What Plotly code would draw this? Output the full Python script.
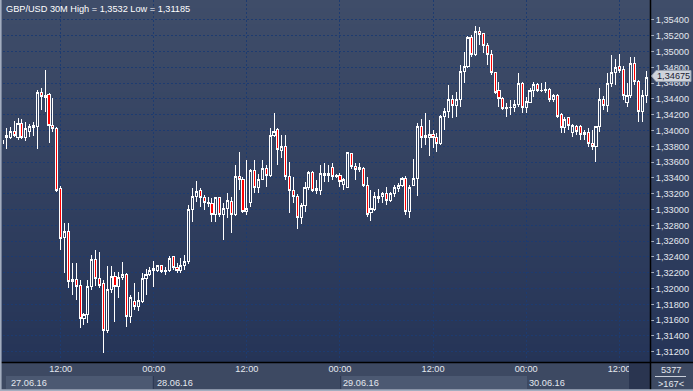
import pandas as pd
import plotly.graph_objects as go

# ---------------- data ----------------
times = pd.date_range("2016-06-27 04:30", periods=167, freq="30min")

open_ = [1.33842,1.33906,1.33918,1.33994,1.33918,1.34083,1.33906,1.33982,1.34033,1.34045,
         1.34488,1.34424,1.34462,1.34070,1.34020,1.33260,1.32640,1.32716,1.32083,1.32108,
         1.32032,1.31614,1.31665,1.32019,1.32373,1.32121,1.32057,1.31462,1.31981,1.32158,
         1.32019,1.32145,1.32183,1.31639,1.31841,1.31766,1.31829,1.32121,1.32171,1.32222,
         1.32234,1.32285,1.32209,1.32234,1.32399,1.32260,1.32222,1.32285,1.32336,1.32994,
         1.33159,1.33235,1.33146,1.33083,1.33070,1.32931,1.33146,1.32931,1.33007,1.33096,
         1.32931,1.33412,1.33386,1.32981,1.33083,1.33500,1.33273,1.33386,1.33525,1.33437,
         1.33931,1.34007,1.33741,1.33792,1.33412,1.33247,1.33159,1.32905,1.33045,1.33285,
         1.33475,1.33235,1.33247,1.33437,1.33437,1.33538,1.33412,1.33437,1.33323,1.33285,
         1.33703,1.33551,1.33538,1.33525,1.33310,1.32956,1.32994,1.33134,1.33171,1.33209,
         1.33108,1.33197,1.33260,1.33298,1.33399,1.32969,1.33310,1.33399,1.34045,1.33918,
         1.33918,1.33944,1.33906,1.33842,1.34172,1.34235,1.34399,1.34323,1.34399,1.34742,
         1.34805,1.35184,1.34969,1.35248,1.35223,1.35083,1.34957,1.34729,1.34513,1.34412,
         1.34273,1.34286,1.34298,1.34336,1.34602,1.34298,1.34361,1.34513,1.34589,1.34501,
         1.34513,1.34526,1.34387,1.34450,1.34209,1.34033,1.34159,1.33969,1.34045,1.34045,
         1.33956,1.33969,1.33842,1.33804,1.34045,1.34387,1.34311,1.34602,1.34729,1.34805,
         1.34767,1.34349,1.34450,1.34855,1.34615,1.34235,1.34450]

high = [1.33931,1.34033,1.34045,1.34121,1.34159,1.34146,1.34109,1.34083,1.34109,1.34513,
        1.34539,1.34767,1.34475,1.34412,1.34045,1.33298,1.32829,1.32829,1.32323,1.32323,
        1.32108,1.31690,1.32108,1.32424,1.32487,1.32462,1.32108,1.32285,1.32285,1.32209,
        1.32209,1.32336,1.32196,1.31918,1.32070,1.31956,1.32196,1.32247,1.32272,1.32348,
        1.32298,1.32298,1.32272,1.32412,1.32412,1.32323,1.32386,1.32424,1.33058,1.33273,
        1.33361,1.33273,1.33184,1.33159,1.33146,1.33159,1.33159,1.33083,1.33209,1.33159,
        1.33564,1.33729,1.33412,1.33627,1.33513,1.33627,1.33449,1.33627,1.33564,1.34033,
        1.34222,1.34033,1.33944,1.33944,1.33602,1.33412,1.33197,1.33083,1.33349,1.33488,
        1.33488,1.33374,1.33564,1.33589,1.33564,1.33589,1.33449,1.33462,1.33399,1.33729,
        1.33716,1.33589,1.33589,1.33538,1.33412,1.33247,1.33222,1.33260,1.33222,1.33285,
        1.33222,1.33310,1.33336,1.33412,1.33424,1.33310,1.33640,1.34096,1.34146,1.34222,
        1.34134,1.34007,1.33969,1.34197,1.34286,1.34577,1.34450,1.34488,1.34830,1.34995,
        1.35197,1.35210,1.35320,1.35311,1.35235,1.35109,1.35020,1.34742,1.34615,1.34425,
        1.34349,1.34387,1.34387,1.34729,1.34615,1.34425,1.34539,1.34615,1.34602,1.34602,
        1.34615,1.34539,1.34462,1.34462,1.34222,1.34172,1.34172,1.34083,1.34070,1.34070,
        1.34007,1.34033,1.34007,1.34058,1.34539,1.34437,1.34729,1.34957,1.34906,1.34969,
        1.34817,1.34602,1.34931,1.34931,1.34640,1.34513,1.34754]

low = [1.33716,1.33766,1.33893,1.33918,1.33880,1.33893,1.33867,1.33918,1.33931,1.33766,
       1.34260,1.34235,1.33842,1.33982,1.33222,1.32487,1.32196,1.32007,1.31918,1.31854,
       1.31500,1.31538,1.31563,1.31981,1.32032,1.32007,1.31185,1.31437,1.31943,1.31576,
       1.31880,1.32108,1.31513,1.31563,1.31728,1.31715,1.31816,1.31918,1.32158,1.32019,
       1.32209,1.32196,1.32171,1.32209,1.32234,1.32196,1.32196,1.32234,1.32310,1.32842,
       1.33096,1.33032,1.32994,1.33032,1.32842,1.32842,1.32905,1.32614,1.32893,1.32703,
       1.32918,1.33247,1.32956,1.32931,1.33032,1.33209,1.33209,1.33374,1.33285,1.33412,
       1.33918,1.33564,1.33652,1.33374,1.32956,1.33083,1.32753,1.32817,1.32969,1.33247,
       1.33222,1.33197,1.33184,1.33349,1.33349,1.33374,1.33399,1.33285,1.33247,1.33273,
       1.33513,1.33374,1.33475,1.33285,1.32905,1.32855,1.32981,1.33083,1.33083,1.33058,
       1.33096,1.33159,1.33222,1.33285,1.32931,1.32893,1.33298,1.33171,1.33779,1.33817,
       1.33677,1.33779,1.33728,1.33817,1.34007,1.34159,1.34159,1.34172,1.34298,1.34602,
       1.34792,1.34931,1.34944,1.35083,1.34982,1.34830,1.34703,1.34463,1.34298,1.34260,
       1.34172,1.34197,1.34235,1.34298,1.34222,1.34222,1.34349,1.34425,1.34488,1.34488,
       1.34475,1.34361,1.34361,1.34159,1.33969,1.33969,1.34007,1.33918,1.33944,1.33880,
       1.33880,1.33792,1.33754,1.33602,1.33982,1.34260,1.34235,1.34551,1.34577,1.34729,
       1.34387,1.34298,1.34412,1.34577,1.34109,1.34109,1.34349]

close = [1.33880,1.33931,1.33982,1.33931,1.34083,1.33906,1.34020,1.34045,1.34058,1.34488,
         1.34437,1.34450,1.34070,1.34020,1.33247,1.32627,1.32716,1.32083,1.32108,1.32019,
         1.31614,1.31665,1.32019,1.32373,1.32121,1.32032,1.31462,1.31981,1.32158,1.32019,
         1.32145,1.32183,1.31639,1.31892,1.31766,1.31854,1.32121,1.32171,1.32234,1.32247,
         1.32285,1.32209,1.32234,1.32386,1.32260,1.32222,1.32285,1.32336,1.32994,1.33159,
         1.33222,1.33146,1.33083,1.33070,1.32931,1.33146,1.32931,1.33007,1.33108,1.32931,
         1.33412,1.33386,1.32981,1.33019,1.33500,1.33273,1.33386,1.33525,1.33437,1.33931,
         1.33994,1.33754,1.33792,1.33412,1.33247,1.33159,1.32905,1.33045,1.33285,1.33475,
         1.33247,1.33260,1.33462,1.33462,1.33462,1.33412,1.33437,1.33361,1.33374,1.33716,
         1.33551,1.33513,1.33513,1.33298,1.32931,1.33007,1.33159,1.33171,1.33209,1.33108,
         1.33197,1.33285,1.33298,1.33399,1.32969,1.33285,1.33399,1.34045,1.33918,1.33931,
         1.33944,1.33906,1.33842,1.34172,1.34235,1.34387,1.34311,1.34399,1.34742,1.34805,
         1.35184,1.34969,1.35248,1.35210,1.35083,1.34957,1.34729,1.34488,1.34412,1.34273,
         1.34298,1.34298,1.34336,1.34602,1.34298,1.34374,1.34513,1.34589,1.34513,1.34513,
         1.34526,1.34387,1.34450,1.34184,1.34033,1.34146,1.34058,1.34058,1.33982,1.33956,
         1.33969,1.33830,1.33804,1.34045,1.34387,1.34311,1.34602,1.34729,1.34792,1.34754,
         1.34450,1.34450,1.34855,1.34615,1.34235,1.34450,1.34675]

x_tick_times = ["2016-06-27 12:00", "2016-06-28 00:00", "2016-06-28 12:00", "2016-06-29 00:00",
                "2016-06-29 12:00", "2016-06-30 00:00", "2016-06-30 12:00"]
x_tick_text = ["12:00", "00:00", "12:00", "00:00", "12:00", "00:00", "12:00"]
date_labels = ["27.06.16", "28.06.16", "29.06.16", "30.06.16"]
y_ticks = [1.312, 1.314, 1.316, 1.318, 1.320, 1.322, 1.324, 1.326, 1.328, 1.330, 1.332,
           1.334, 1.336, 1.338, 1.340, 1.342, 1.344, 1.346, 1.348, 1.350, 1.352, 1.354]
title_text = "GBP/USD 30M High = 1,3532 Low = 1,31185"
last_price_text = "1,34675"
bars_count_text = "5377"
visible_bars_text = ">167<"

# ---------------- layout geometry ----------------
FW, FH = 693, 391
ML, MR, MT, MB = 3, 43, 0, 29
PW = FW - ML - MR
PH = FH - MT - MB
FONT = "Liberation Sans, Arial, sans-serif"
FS = 9.2

def px(xp):
    return (xp - ML) / PW

def py(yp):
    return (MT + PH - yp) / PH

t0 = times[0]
half = pd.Timedelta(minutes=30)
x_range = [t0 + half * 0.13, t0 + half * 166.93]
y_range = [1.31069, 1.35653]

fig = go.Figure()
fig.add_trace(go.Candlestick(
    x=times, open=open_, high=high, low=low, close=close,
    increasing=dict(line=dict(color="#ffffff", width=1), fillcolor="rgba(0,0,0,0)"),
    decreasing=dict(line=dict(color="#ffffff", width=1), fillcolor="#ff0000"),
    whiskerwidth=0, hoverinfo="skip", showlegend=False,
))

shapes = []
# vertical gradient background (plot + right axis panel)
top = (63, 77, 105)
bot = (37, 52, 87)
step = 4
for k in range(0, PH + 1, step):
    f = k / PH
    c = tuple(round(top[j] + (bot[j] - top[j]) * f) for j in range(3))
    shapes.append(dict(type="rect", xref="paper", yref="paper", layer="below",
                       x0=px(0), x1=px(FW), y0=py(min(k + step, PH)), y1=py(k),
                       fillcolor="rgb(%d,%d,%d)" % c, line=dict(width=0)))

# bottom strip decorations
shapes += [
    dict(type="rect", xref="paper", yref="paper", layer="above", x0=px(6), x1=px(152.5),
         y0=py(389), y1=py(376), fillcolor="#4c5972", line=dict(width=0)),
    dict(type="rect", xref="paper", yref="paper", layer="above", x0=px(341.5), x1=px(527),
         y0=py(389), y1=py(376), fillcolor="#4c5972", line=dict(width=0)),
    dict(type="rect", xref="paper", yref="paper", layer="above", x0=px(629), x1=px(650),
         y0=py(389), y1=py(363), fillcolor="#2a3550", line=dict(width=0)),
    dict(type="line", xref="paper", yref="paper", layer="above", x0=px(153.5), x1=px(153.5),
         y0=py(389), y1=py(376), line=dict(color="#2e3a55", width=1)),
    dict(type="line", xref="paper", yref="paper", layer="above", x0=px(340.5), x1=px(340.5),
         y0=py(389), y1=py(376), line=dict(color="#2e3a55", width=1)),
    # black separators
    dict(type="line", xref="paper", yref="paper", layer="above", x0=px(0), x1=px(FW),
         y0=py(362.5), y1=py(362.5), line=dict(color="#000000", width=1.5)),
    dict(type="line", xref="paper", yref="paper", layer="above", x0=px(650.5), x1=px(650.5),
         y0=py(FH), y1=py(0), line=dict(color="#000000", width=1.5)),
    # outer light border (left / bottom)
    dict(type="rect", xref="paper", yref="paper", layer="above", x0=px(0), x1=px(1.6),
         y0=py(FH), y1=py(0), fillcolor="#a3adbf", line=dict(width=0)),
    dict(type="rect", xref="paper", yref="paper", layer="above", x0=px(0), x1=px(FW),
         y0=py(FH), y1=py(389.3), fillcolor="#a3adbf", line=dict(width=0)),
    # underline in bar-count box
    dict(type="line", xref="paper", yref="paper", layer="above", x0=px(655), x1=px(686),
         y0=py(376.5), y1=py(376.5), line=dict(color="#c9cfda", width=1)),
    # last-price tag
    dict(type="path", xref="paper", yref="paper", layer="above",
         path="M %f,%f L %f,%f L %f,%f L %f,%f L %f,%f Z" % (
             px(651.5), py(76), px(656), py(70.5), px(691), py(70.5),
             px(691), py(81.5), px(656), py(81.5)),
         fillcolor="#cfd4dc", line=dict(color="#9aa3b2", width=1)),
]

annotations = [
    dict(text=title_text, xref="paper", yref="paper", x=px(4), y=py(2), xanchor="left",
         yanchor="top", showarrow=False, font=dict(family=FONT, size=FS, color="#ffffff")),
    dict(text=last_price_text, xref="paper", yref="paper", x=px(673.5), y=py(76),
         xanchor="center", yanchor="middle", showarrow=False,
         font=dict(family=FONT, size=FS, color="#1a2233")),
    dict(text=bars_count_text, xref="paper", yref="paper", x=px(670.5), y=py(370),
         xanchor="center", yanchor="middle", showarrow=False,
         font=dict(family=FONT, size=FS, color="#e4e8ef")),
    dict(text=visible_bars_text, xref="paper", yref="paper", x=px(670.5), y=py(383.5),
         xanchor="center", yanchor="middle", showarrow=False,
         font=dict(family=FONT, size=FS, color="#e4e8ef")),
]
midnights = ["2016-06-28 00:00", "2016-06-29 00:00", "2016-06-30 00:00"]
annotations.append(dict(text=date_labels[0], xref="paper", yref="paper", x=px(8.5), y=py(382.5),
                        xanchor="left", yanchor="middle", showarrow=False,
                        font=dict(family=FONT, size=FS, color="#e4e8ef")))
for lab, m in zip(date_labels[1:], midnights):
    annotations.append(dict(text=lab, xref="x", yref="paper", x=m, y=py(382.5),
                            xanchor="left", yanchor="middle", xshift=1, showarrow=False,
                            font=dict(family=FONT, size=FS, color="#e4e8ef")))

grid_color = "#1d3b70"
fig.update_layout(
    width=FW, height=FH,
    margin=dict(l=ML, r=MR, t=MT, b=MB, pad=0),
    paper_bgcolor="#3d4962",
    plot_bgcolor="rgba(0,0,0,0)",
    boxgap=0.22,
    showlegend=False,
    hovermode=False,
    separators=", ",
    shapes=shapes,
    annotations=annotations,
    font=dict(family=FONT, size=FS, color="#e4e8ef"),
    xaxis=dict(
        type="date", range=x_range, rangeslider=dict(visible=False),
        tickmode="array", tickvals=x_tick_times, ticktext=x_tick_text,
        showgrid=True, gridcolor=grid_color, gridwidth=1, griddash="2px,2px",
        ticks="", showline=False, zeroline=False, fixedrange=True,
        tickfont=dict(family=FONT, size=FS, color="#e4e8ef"),
    ),
    yaxis=dict(
        side="right", range=y_range, tickmode="array", tickvals=y_ticks,
        tickformat=".5f", showgrid=True, gridcolor=grid_color, gridwidth=1,
        griddash="2px,2px", ticks="outside", ticklen=3, tickcolor="#aab3c4",
        showline=False, zeroline=False, fixedrange=True,
        tickfont=dict(family=FONT, size=FS, color="#e4e8ef"),
    ),
)

fig.write_html(
    "out.html",
    config={"displayModeBar": False, "staticPlot": True},
    post_script="document.body.style.margin='0';document.body.style.padding='0';"
                "document.body.style.overflow='hidden';"
                "var s=document.createElement('style');"
                "s.innerHTML='.main-svg .trace path{shape-rendering:crispEdges}';"
                "document.head.appendChild(s);",
)
